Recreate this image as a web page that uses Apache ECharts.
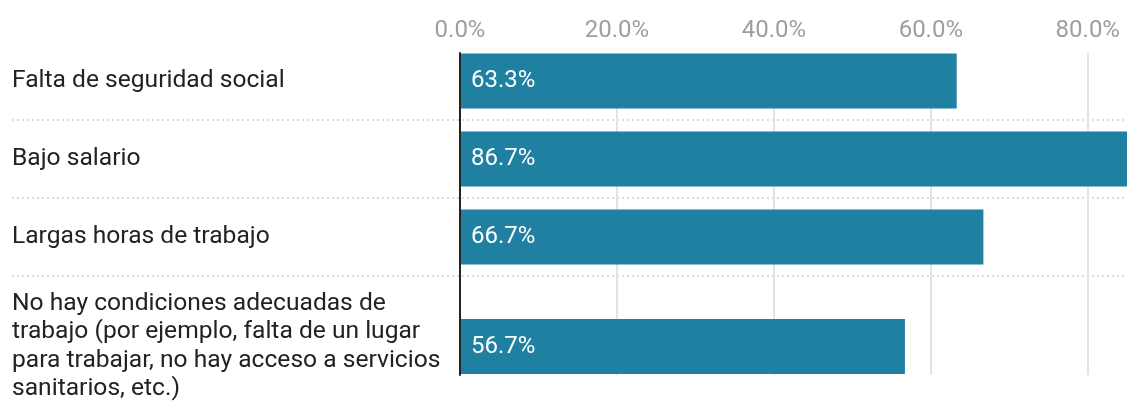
<!DOCTYPE html>
<html>
<head>
<meta charset="utf-8">
<script src="https://cdn.jsdelivr.net/npm/echarts@6/dist/echarts.min.js"></script>
<style>
html,body{margin:0;padding:0;background:#fff;}
#chart{width:1127px;height:401px;}
</style>
</head>
<body>
<div id="chart"></div>
<script>
const categories = [
  'Falta de seguridad social',
  'Bajo salario',
  'Largas horas de trabajo',
  'No hay condiciones adecuadas de trabajo (por ejemplo, falta de un lugar para trabajar, no hay acceso a servicios sanitarios, etc.)'
];
const values = [63.3, 86.7, 66.7, 56.7];
const xMin = 0, xMax = 85, xInterval = 20;

const FONT = 'Roboto';
const BAR_COLOR = '#1f80a1';
const pct = v => v.toFixed(1) + '%';

const catLabel = {
  align: 'left', margin: 448, width: 446, overflow: 'break',
  fontFamily: FONT, fontSize: 24.6, lineHeight: 28.5, color: '#222'
};
const hiddenX = { type: 'value', min: xMin, max: xMax, show: false };
const barLabel = {
  show: true, position: 'insideLeft', distance: 11,
  formatter: p => pct(p.value), color: '#fff', fontFamily: FONT, fontSize: 24
};
const G = { left: 460, right: 0, outerBoundsMode: 'none', containLabel: false };

const option = {
  animation: false,
  grid: [
    Object.assign({}, G, { top: 42, height: 234 }),
    Object.assign({}, G, { top: 292, height: 109 }),
    Object.assign({}, G, { top: 53, height: 322 }),
    Object.assign({}, G, { left: 12, top: 120, height: 156 })
  ],
  xAxis: [
    Object.assign({ gridIndex: 0 }, hiddenX),
    Object.assign({ gridIndex: 1 }, hiddenX),
    {
      gridIndex: 2, type: 'value', min: xMin, max: xMax, interval: xInterval, position: 'top',
      axisLine: { show: false }, axisTick: { show: false },
      axisLabel: {
        margin: 10, color: '#9e9e9e', fontFamily: FONT, fontSize: 24,
        formatter: v => (v % xInterval === 0 ? pct(v) : '')
      },
      splitLine: { show: true, showMaxLine: false, lineStyle: { color: '#e3e3e3', width: 2 } }
    },
    { gridIndex: 3, type: 'value', show: false }
  ],
  yAxis: [
    {
      gridIndex: 0, type: 'category', inverse: true, data: categories.slice(0, 3),
      axisLine: { show: false }, axisTick: { show: false }, axisLabel: catLabel
    },
    {
      gridIndex: 1, type: 'category', inverse: true, data: categories.slice(3),
      axisLine: { show: false }, axisTick: { show: false },
      axisLabel: Object.assign({}, catLabel, { padding: [2, 0, 0, 0] })
    },
    {
      gridIndex: 2, type: 'value', z: 10,
      axisLine: { show: true, lineStyle: { color: '#222', width: 2 } },
      axisTick: { show: false }, axisLabel: { show: false }, splitLine: { show: false }
    },
    {
      gridIndex: 3, type: 'value', min: 0, max: 2, interval: 1,
      axisLine: { show: false }, axisTick: { show: false }, axisLabel: { show: false },
      splitLine: { show: true, lineStyle: { color: '#cfcfcf', width: 1.5, type: [2, 3] } }
    }
  ],
  series: [
    {
      type: 'bar', xAxisIndex: 0, yAxisIndex: 0, data: values.slice(0, 3),
      barWidth: 55, itemStyle: { color: BAR_COLOR }, label: barLabel, z: 3
    },
    {
      type: 'bar', xAxisIndex: 1, yAxisIndex: 1, data: values.slice(3),
      barWidth: 55, itemStyle: { color: BAR_COLOR }, label: barLabel, z: 3
    }
  ]
};

const chart = echarts.init(document.getElementById('chart'), null, { renderer: 'canvas' });
chart.setOption(option);
</script>
</body>
</html>
